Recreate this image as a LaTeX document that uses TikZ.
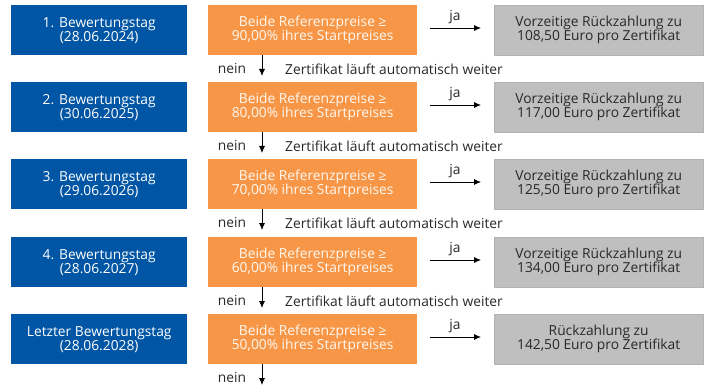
\documentclass[tikz,border=0pt]{standalone}
\usepackage{fontspec}
\setmainfont{Open Sans}
\usetikzlibrary{arrows.meta}
\definecolor{bblue}{RGB}{0,85,164}
\definecolor{borange}{RGB}{247,150,70}
\definecolor{bgray}{RGB}{191,191,191}
\definecolor{tgray}{RGB}{40,40,40}
\begin{document}
\begin{tikzpicture}[x=1pt,y=-1pt,
  box/.style={minimum width=#1, minimum height=50pt, inner sep=0pt, align=center, font=\fontsize{13.8}{14}\selectfont, anchor=north west},
  bluebox/.style={box=176pt, fill=bblue, text=white},
  orangebox/.style={box=209pt, fill=borange, text=white!95!orange},
  graybox/.style={box=209pt, fill=bgray, draw=black!30, text=tgray},
  lbl/.style={font=\fontsize{13.8}{14}\selectfont, text=tgray, inner sep=0pt},
  arr/.style={-{Latex[length=7pt,width=6pt]}, line width=0.8pt}
]
\useasboundingbox (0,0) rectangle (707,385);
\foreach \i/\y/\blue/\pct/\res in {
  1/5/{1. Bewertungstag\\(28.06.2024)}/90/{Vorzeitige Rückzahlung zu\\108,50 Euro pro Zertifikat},
  2/82/{2. Bewertungstag\\(30.06.2025)}/80/{Vorzeitige Rückzahlung zu\\117,00 Euro pro Zertifikat},
  3/159/{3. Bewertungstag\\(29.06.2026)}/70/{Vorzeitige Rückzahlung zu\\125,50 Euro pro Zertifikat},
  4/237/{4. Bewertungstag\\(28.06.2027)}/60/{Vorzeitige Rückzahlung zu\\134,00 Euro pro Zertifikat},
  5/314/{Letzter Bewertungstag\\(28.06.2028)}/50/{Rückzahlung zu\\142,50 Euro pro Zertifikat}} {
  \node[bluebox] (b\i) at (11,\y) {\blue};
  \node[orangebox] (o\i) at (208,\y) {Beide Referenzpreise ≥\\\pct,00\% ihres Startpreises};
  \node[graybox] (g\i) at (494,\y) {\res};
  \coordinate (ja\i s) at (430,\y+23);
  \coordinate (ja\i e) at (481,\y+23);
  \draw[arr] (ja\i s) -- (ja\i e);
  \node[lbl] (jl\i) at (455,\y+12) {ja};
  \coordinate (dn\i) at (262,\y+71);
  \draw[arr] (o\i.south -| dn\i) -- (dn\i);
  \node[lbl] (nl\i) at (232,\y+64) {nein};
}
\foreach \i/\y in {1/5,2/82,3/159,4/237} {
  \node[lbl, anchor=west] (zl\i) at (285,\y+64) {Zertifikat läuft automatisch weiter};
}
\end{tikzpicture}
\end{document}
